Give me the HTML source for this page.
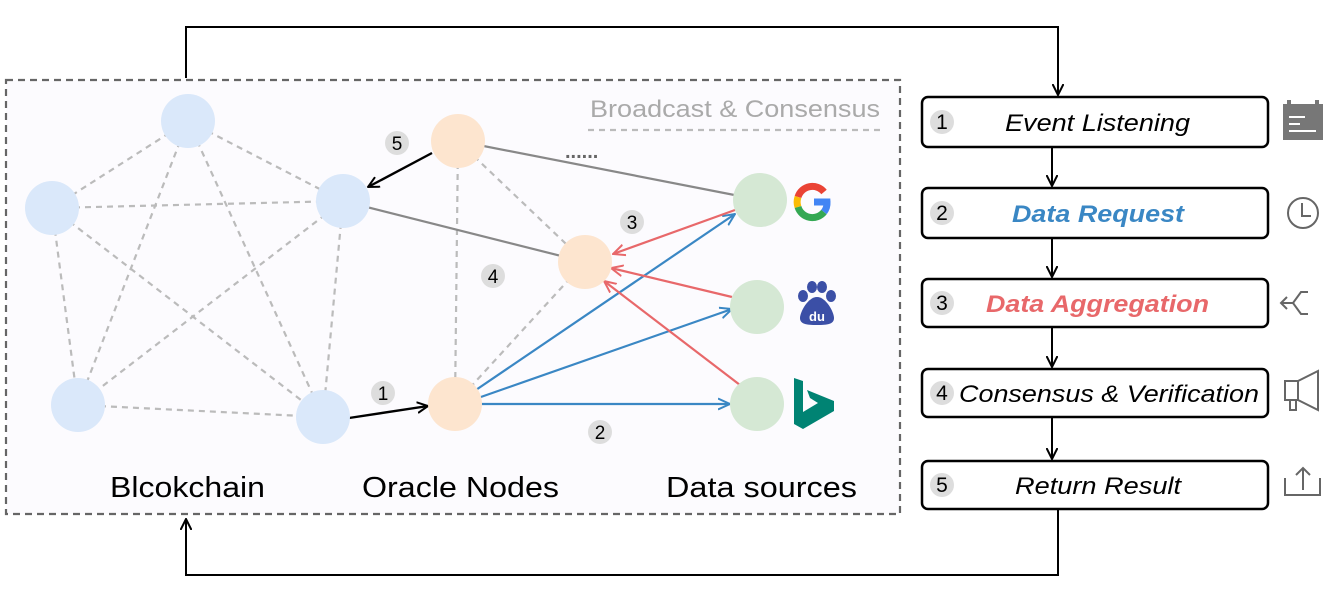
<!DOCTYPE html>
<html><head><style>body{margin:0;background:#fff}</style></head><body>
<svg width="1329" height="602" viewBox="0 0 1329 602" xmlns="http://www.w3.org/2000/svg" font-family="Liberation Sans, Arial, sans-serif">
<defs>
<marker id="ak" markerWidth="12" markerHeight="12" refX="11" refY="6" orient="auto" markerUnits="userSpaceOnUse"><path d="M0,0.5 L11,6 L0,11.5" fill="none" stroke="#000" stroke-width="2"/></marker>
<marker id="ab" markerWidth="13" markerHeight="13" refX="12" refY="6.5" orient="auto" markerUnits="userSpaceOnUse"><path d="M0,1 L12,6.5 L0,12" fill="none" stroke="#3a87c4" stroke-width="2"/></marker>
<marker id="ar" markerWidth="13" markerHeight="13" refX="12" refY="6.5" orient="auto" markerUnits="userSpaceOnUse"><path d="M0,1 L12,6.5 L0,12" fill="none" stroke="#e8686a" stroke-width="2"/></marker>
</defs>
<rect x="6" y="80" width="894" height="434" fill="#fcfbfe" stroke="#666" stroke-width="2.2" stroke-dasharray="7,5"/>
<polyline points="186,78 186,27 1058,27 1058,95" fill="none" stroke="#000" stroke-width="2" marker-end="url(#ak)"/>
<polyline points="1058,507 1058,575 186,575 186,519" fill="none" stroke="#000" stroke-width="2" marker-end="url(#ak)"/>
<g stroke="#bbb" stroke-width="2.2" stroke-dasharray="6,5" fill="none">
<line x1="188" y1="121" x2="52" y2="208"/><line x1="188" y1="121" x2="343" y2="201"/><line x1="188" y1="121" x2="78" y2="405"/><line x1="188" y1="121" x2="323" y2="417"/>
<line x1="52" y1="208" x2="343" y2="201"/><line x1="52" y1="208" x2="78" y2="405"/><line x1="52" y1="208" x2="323" y2="417"/>
<line x1="343" y1="201" x2="78" y2="405"/><line x1="343" y1="201" x2="323" y2="417"/><line x1="78" y1="405" x2="323" y2="417"/>
<line x1="458" y1="141" x2="455" y2="404"/><line x1="458" y1="141" x2="585" y2="262"/><line x1="455" y1="404" x2="585" y2="262"/>
<line x1="588" y1="130" x2="884" y2="130"/>
</g>
<line x1="458" y1="141" x2="760" y2="200" stroke="#888" stroke-width="2.2"/>
<line x1="585" y1="262" x2="343" y2="201" stroke="#888" stroke-width="2.2"/>
<text x="565" y="158" font-size="20" fill="#666" font-weight="bold">......</text>
<line x1="432" y1="153" x2="368" y2="187" stroke="#000" stroke-width="2.4" marker-end="url(#ak)"/>
<line x1="349" y1="418" x2="428" y2="406" stroke="#000" stroke-width="2.4" marker-end="url(#ak)"/>
<g stroke="#3a87c4" stroke-width="2.2" fill="none">
<line x1="470" y1="394" x2="735" y2="214" marker-end="url(#ab)"/>
<line x1="478" y1="398" x2="732" y2="309" marker-end="url(#ab)"/>
<line x1="481" y1="404" x2="730" y2="404" marker-end="url(#ab)"/>
</g>
<g stroke="#e8686a" stroke-width="2.2" fill="none">
<line x1="735" y1="210" x2="613" y2="254" marker-end="url(#ar)"/>
<line x1="732" y1="297" x2="611" y2="268" marker-end="url(#ar)"/>
<line x1="740" y1="385" x2="604" y2="281" marker-end="url(#ar)"/>
</g>
<g fill="#dae8fa"><circle cx="188" cy="121" r="27"/><circle cx="52" cy="208" r="27"/><circle cx="343" cy="201" r="27"/><circle cx="78" cy="405" r="27"/><circle cx="323" cy="417" r="27"/></g>
<g fill="#fde5cf"><circle cx="458" cy="141" r="27"/><circle cx="585" cy="262" r="27"/><circle cx="455" cy="404" r="27"/></g>
<g fill="#d5e8d4"><circle cx="760" cy="200" r="27"/><circle cx="757" cy="307" r="27"/><circle cx="757" cy="404" r="27"/></g>
<g font-size="19" fill="#000" text-anchor="middle">
<circle cx="397" cy="143" r="12" fill="#ddd"/><text x="397" y="150">5</text>
<circle cx="632" cy="222" r="12" fill="#ddd"/><text x="632" y="229">3</text>
<circle cx="493" cy="276" r="12" fill="#ddd"/><text x="493" y="283">4</text>
<circle cx="383" cy="393" r="12" fill="#ddd"/><text x="383" y="400">1</text>
<circle cx="600" cy="432" r="12" fill="#ddd"/><text x="600" y="439">2</text>
</g>
<g transform="translate(812,202)" fill="none" stroke-width="7">
<path d="M12,-10 A15,15 0 0 0 -14,-5" stroke="#ea4335"/>
<path d="M-14,-5 A15,15 0 0 0 -14,5" stroke="#fbbc05"/>
<path d="M-14,5 A15,15 0 0 0 12,10" stroke="#34a853"/>
<path d="M12,10 A15,15 0 0 0 15,0 L2,0" stroke="#4285f4"/>
</g>
<g fill="#3b4fa6">
<ellipse cx="803" cy="296" rx="5" ry="6"/><ellipse cx="812" cy="287" rx="5" ry="6"/><ellipse cx="822" cy="287" rx="5" ry="6"/><ellipse cx="831" cy="296" rx="5" ry="6"/>
<path d="M817,297 C808,297 800,312 800,318 C800,324 806,325 817,325 C828,325 834,324 834,318 C834,312 826,297 817,297Z"/>
<text x="817" y="321" font-size="13" font-weight="bold" fill="#fff" text-anchor="middle">du</text>
</g>
<path d="M794,378 L803,381 L803,412 L818,403 L810,398 L807,390 L834,401 L834,411 L803,429 L794,424Z" fill="#008373"/>
<text x="590" y="117" font-size="24" fill="#aaa" textLength="290" lengthAdjust="spacingAndGlyphs">Broadcast &amp; Consensus</text>
<g font-size="29" fill="#000">
<text x="110" y="497" textLength="155" lengthAdjust="spacingAndGlyphs">Blcokchain</text>
<text x="362" y="497" textLength="197" lengthAdjust="spacingAndGlyphs">Oracle Nodes</text>
<text x="666" y="497" textLength="191" lengthAdjust="spacingAndGlyphs">Data sources</text>
</g>
<g fill="#fff" stroke="#000" stroke-width="2.5">
<rect x="922" y="97" width="346" height="50" rx="6"/>
<rect x="922" y="188" width="346" height="50" rx="6"/>
<rect x="922" y="279" width="346" height="48" rx="6"/>
<rect x="922" y="369" width="346" height="48" rx="6"/>
<rect x="922" y="461" width="346" height="48" rx="6"/>
</g>
<g stroke="#000" stroke-width="2" marker-end="url(#ak)">
<line x1="1052" y1="147" x2="1052" y2="186"/><line x1="1052" y1="238" x2="1052" y2="277"/>
<line x1="1052" y1="327" x2="1052" y2="367"/><line x1="1052" y1="417" x2="1052" y2="459"/>
</g>
<g font-size="21" text-anchor="middle">
<circle cx="942" cy="122" r="12" fill="#ddd"/><text x="942" y="129">1</text>
<circle cx="942" cy="213" r="12" fill="#ddd"/><text x="942" y="220">2</text>
<circle cx="942" cy="303" r="12" fill="#ddd"/><text x="942" y="310">3</text>
<circle cx="942" cy="393" r="12" fill="#ddd"/><text x="942" y="400">4</text>
<circle cx="942" cy="485" r="12" fill="#ddd"/><text x="942" y="492">5</text>
</g>
<g font-size="24" font-style="italic">
<text x="1005" y="131" textLength="185" lengthAdjust="spacingAndGlyphs">Event Listening</text>
<text x="1012" y="222" font-weight="bold" fill="#3a87c4" textLength="172" lengthAdjust="spacingAndGlyphs">Data Request</text>
<text x="986" y="312" font-weight="bold" fill="#e8686a" textLength="223" lengthAdjust="spacingAndGlyphs">Data Aggregation</text>
<text x="959" y="402" textLength="300" lengthAdjust="spacingAndGlyphs">Consensus &amp; Verification</text>
<text x="1015" y="494" textLength="166" lengthAdjust="spacingAndGlyphs">Return Result</text>
</g>
<g fill="#777"><rect x="1283" y="104" width="40" height="36"/><rect x="1287" y="100" width="4" height="6"/><rect x="1315" y="100" width="4" height="6"/></g>
<g stroke="#fff" stroke-width="2"><line x1="1289" y1="117" x2="1305" y2="117"/><line x1="1289" y1="124" x2="1300" y2="124"/><line x1="1289" y1="131" x2="1316" y2="131"/></g>
<g fill="none" stroke="#666" stroke-width="2">
<circle cx="1303" cy="213" r="15"/><path d="M1302,203 V216 H1311"/>
<path d="M1281,303 H1293 L1301,292 H1308 M1293,303 L1301,314 H1308 M1287,297 L1281,303 L1287,309"/>
<path d="M1285,381 H1298 L1318,371 V410 L1298,400 H1285 Z M1298,381 V400 M1290,400 V410 H1296 V400"/>
<path d="M1285,478 V495 H1320 V478 M1303,490 V468 M1296,475 L1303,468 L1310,475"/>
</g>
</svg>
</body></html>
